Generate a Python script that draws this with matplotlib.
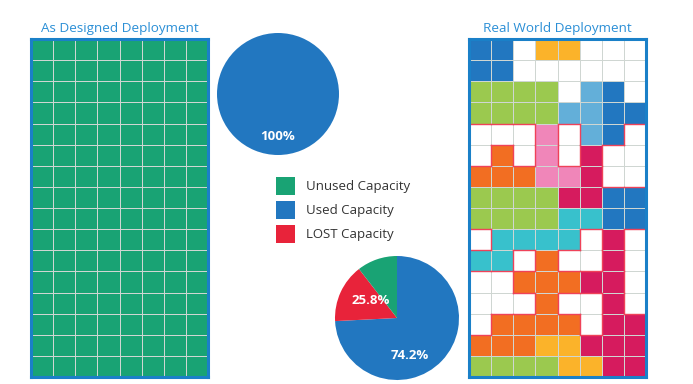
import numpy as np
import matplotlib.pyplot as plt
from matplotlib.colors import ListedColormap
from matplotlib.patches import Patch

plt.rcParams['font.family'] = ['Open Sans', 'DejaVu Sans']

# colour codes used in the grids
palette = {
    'W': '#ffffff',  # free slot
    'G': '#19a374',  # unused capacity (designed)
    'B': '#2277c0',
    'Y': '#fbb32a',
    'L': '#9bc94f',
    'S': '#63afd9',
    'P': '#f086b9',
    'M': '#d61b5e',
    'O': '#f26e22',
    'C': '#38c1cc',
}

designed = ["GGGGGGGG"] * 16

real_world = [
    "BBWYYWWW",
    "BBWWWWWW",
    "LLLLWSBW",
    "LLLLSSBB",
    "WWWPWSBW",
    "WOWPWMWW",
    "OOOPPMWW",
    "LLLLMMBB",
    "LLLLCCBB",
    "WCCCCWMW",
    "CCWOWWMW",
    "WWOOOMMW",
    "WWWOWWMW",
    "WOOOOWMM",
    "OOOYYMMM",
    "LLLLYYMM",
]

# pies
designed_values = [100]
real_values = [74.2, 15.3, 10.5]       # used, lost, unused
real_colors = ['#2277c0', '#e8233a', '#19a374']
real_texts = ['74.2%', '25.8%']

legend_labels = ['Unused Capacity', 'Used Capacity', 'LOST Capacity']
legend_colors = ['#19a374', '#2277c0', '#e8233a']

title_color = '#2b8fd6'
frame_color = '#1a80c8'

W, H = 693, 384
fig = plt.figure(figsize=(W / 100, H / 100), dpi=100)


def px_axes(x0, y0, x1, y1):
    return fig.add_axes([x0 / W, 1 - y1 / H, (x1 - x0) / W, (y1 - y0) / H])


def draw_grid(ax, rows, lost_outline=False):
    keys = list(palette.keys())
    cmap = ListedColormap([palette[k] for k in keys])
    codes = np.array([[keys.index(c) for c in r] for r in rows])
    nr, nc = codes.shape
    ax.pcolormesh(np.arange(nc + 1), np.arange(nr + 1), codes, cmap=cmap,
                  vmin=-0.5, vmax=len(keys) - 0.5,
                  edgecolors='#cfd6d2', linewidth=0.6)
    if lost_outline:
        # outline free slots that got trapped below the top rows
        for i in range(4, nr):
            for j in range(nc):
                if rows[i][j] != 'W':
                    continue
                for di, dj, seg in [(-1, 0, ([j, j + 1], [i, i])),
                                    (1, 0, ([j, j + 1], [i + 1, i + 1])),
                                    (0, -1, ([j, j], [i, i + 1])),
                                    (0, 1, ([j + 1, j + 1], [i, i + 1]))]:
                    ni, nj = i + di, j + dj
                    if 0 <= ni < nr and 0 <= nj < nc and rows[ni][nj] != 'W':
                        ax.plot(seg[0], seg[1], color='#ef4259', lw=1.0,
                                solid_capstyle='projecting')
    ax.set_xlim(0, nc)
    ax.set_ylim(nr, 0)
    ax.set_xticks([])
    ax.set_yticks([])
    for s in ax.spines.values():
        s.set_color(frame_color)
        s.set_linewidth(2.2)


ax_l = px_axes(31, 39, 208, 377)
draw_grid(ax_l, designed)
ax_l.set_title('As Designed Deployment', color=title_color, fontsize=9.7, pad=5)

ax_r = px_axes(469, 39, 646, 377)
draw_grid(ax_r, real_world, lost_outline=True)
ax_r.set_title('Real World Deployment', color=title_color, fontsize=9.7, pad=5)

# top pie
ax_p1 = px_axes(217, 33, 339, 155)
ax_p1.pie(designed_values, colors=['#2277c0'], startangle=90, radius=1)
ax_p1.text(0, -0.7, '100%', color='white', fontsize=9.5, fontweight='bold',
           ha='center', va='center')
ax_p1.set_xlim(-1, 1)
ax_p1.set_ylim(-1, 1)
ax_p1.set_aspect('equal')

# bottom pie
ax_p2 = px_axes(335, 256, 459, 380)
ax_p2.pie(real_values, colors=real_colors, startangle=90, counterclock=False,
          radius=1)
ax_p2.text(0.2, -0.6, real_texts[0], color='white', fontsize=9.5,
           fontweight='bold', ha='center', va='center')
ax_p2.text(-0.42, 0.29, real_texts[1], color='white', fontsize=9.5,
           fontweight='bold', ha='center', va='center')
ax_p2.set_xlim(-1, 1)
ax_p2.set_ylim(-1, 1)
ax_p2.set_aspect('equal')

handles = [Patch(facecolor=c, edgecolor='none') for c in legend_colors]
fig.legend(handles, legend_labels, loc='upper left',
           bbox_to_anchor=(276 / W, 1 - 177 / H), frameon=False,
           fontsize=9.5, handlelength=1.44, handleheight=1.73,
           labelspacing=0.45, handletextpad=0.83, borderpad=0,
           borderaxespad=0, labelcolor='#333333')

fig.savefig('out.png', dpi=100)
